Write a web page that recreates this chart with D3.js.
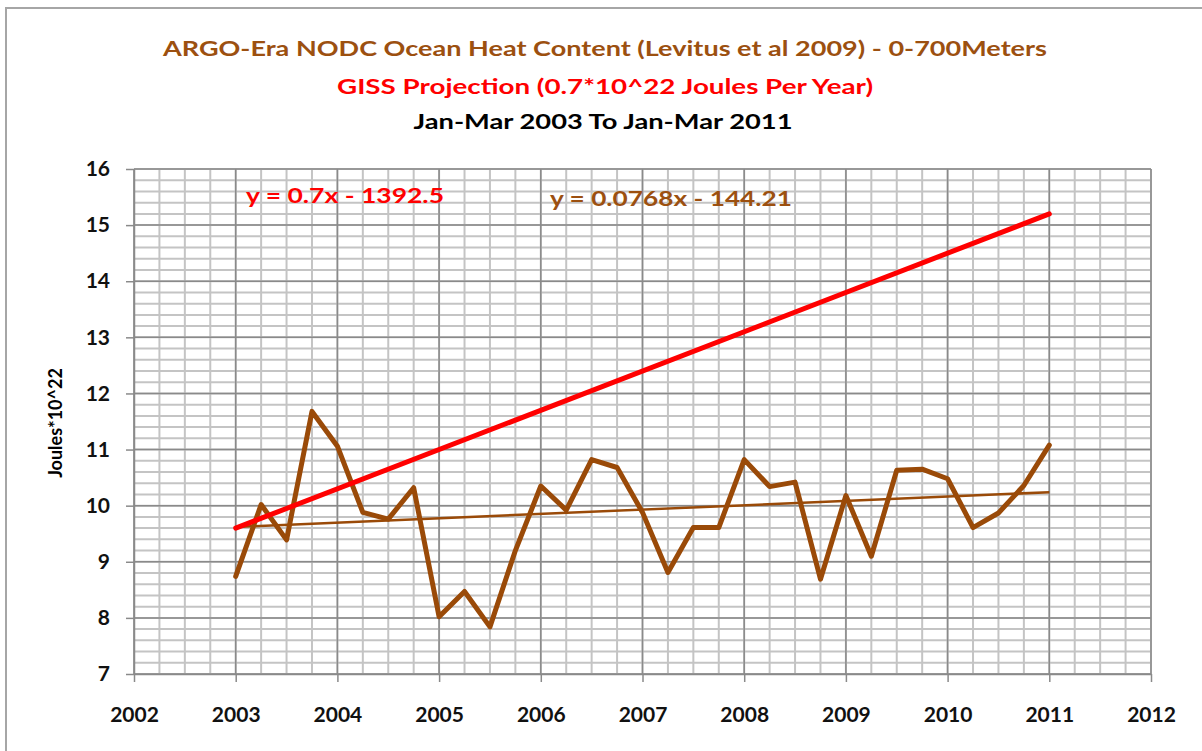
<!DOCTYPE html>
<html>
<head>
<meta charset="utf-8">
<script src="https://d3js.org/d3.v7.min.js"></script>
<style>
  body { margin: 0; background: #fff; }
  svg text { font-family: Lato, "Open Sans", sans-serif; font-weight: bold; }
</style>
</head>
<body>
<div id="chart"></div>
<script>
// quarterly NODC 0-700m ohc (10^22 J), Jan-Mar 2003 .. Jan-Mar 2011
var quarters = [2003, 2003.25, 2003.5, 2003.75, 2004, 2004.25, 2004.5, 2004.75,
                2005, 2005.25, 2005.5, 2005.75, 2006, 2006.25, 2006.5, 2006.75,
                2007, 2007.25, 2007.5, 2007.75, 2008, 2008.25, 2008.5, 2008.75,
                2009, 2009.25, 2009.5, 2009.75, 2010, 2010.25, 2010.5, 2010.75, 2011];
var ohc = [8.74, 10.02, 9.39, 11.68, 11.06, 9.88, 9.76, 10.32,
           8.02, 8.47, 7.84, 9.2, 10.35, 9.92, 10.82, 10.68,
           9.88, 8.81, 9.61, 9.61, 10.82, 10.34, 10.42, 8.69,
           10.18, 9.1, 10.63, 10.65, 10.48, 9.61, 9.87, 10.36, 11.08];

// end points of the two straight lines
var lineYears = [2003, 2011];
var gissLine = [9.6, 15.2];
var trendLine = [9.62, 10.24];

var yearTicks = [2002, 2003, 2004, 2005, 2006, 2007, 2008, 2009, 2010, 2011, 2012];
var valueTicks = [7, 8, 9, 10, 11, 12, 13, 14, 15, 16];

var titles = ["ARGO-Era NODC Ocean Heat Content (Levitus et al 2009) - 0-700Meters",
              "GISS Projection (0.7*10^22 Joules Per Year)",
              "Jan-Mar 2003 To Jan-Mar 2011"];
var gissLabel = "y = 0.7x - 1392.5";
var trendLabel = "y = 0.0768x - 144.21";
var yTitle = "Joules*10^22";

var brown = "#9a4a08", brownText = "#9c5010", red = "#ff0000";

var W = 1202, H = 751;
var margin = {top: 169, left: 134},
    width = 1017, height = 505;

var svg = d3.select("#chart").append("svg")
    .attr("width", W).attr("height", H);

// outer frame (only left and top show)
svg.append("path")
    .attr("d", "M6,751 V8 H1202")
    .attr("fill", "none").attr("stroke", "#a6a6a6").attr("stroke-width", 2);

// titles
var tPos = [[605, 47, 884, brownText], [605, 85, 536, red], [603, 120, 379, "#000"]];
titles.forEach(function(t, i) {
  svg.append("text")
    .attr("x", tPos[i][0]).attr("y", tPos[i][1])
    .attr("text-anchor", "middle")
    .attr("dominant-baseline", "central")
    .attr("textLength", tPos[i][2])
    .attr("lengthAdjust", "spacingAndGlyphs")
    .style("font-size", "21px")
    .attr("fill", tPos[i][3])
    .text(t);
});

var g = svg.append("g")
    .attr("transform", "translate(" + margin.left + "," + margin.top + ")");

var x = d3.scaleLinear().domain([2002, 2012]).range([0, width]);
var y = d3.scaleLinear().domain([7, 16]).range([height, 0]);

// minor grid
var minorX = d3.range(0, 41).map(function(i) { return 2002 + i * 0.25; });
var minorY = d3.range(0, 46).map(function(i) { return 7 + i * 0.2; });
g.append("g").selectAll("line").data(minorX).enter().append("line")
    .attr("x1", function(d) { return x(d); }).attr("x2", function(d) { return x(d); })
    .attr("y1", 0).attr("y2", height)
    .attr("stroke", "#c4c4c4").attr("stroke-width", 2);
g.append("g").selectAll("line").data(minorY).enter().append("line")
    .attr("y1", function(d) { return y(d); }).attr("y2", function(d) { return y(d); })
    .attr("x1", 0).attr("x2", width)
    .attr("stroke", "#c4c4c4").attr("stroke-width", 2);

// major grid
g.append("g").selectAll("line").data(yearTicks).enter().append("line")
    .attr("x1", function(d) { return x(d); }).attr("x2", function(d) { return x(d); })
    .attr("y1", 0).attr("y2", height)
    .attr("stroke", "#8a8a8a").attr("stroke-width", 1.5);
g.append("g").selectAll("line").data(valueTicks).enter().append("line")
    .attr("y1", function(d) { return y(d); }).attr("y2", function(d) { return y(d); })
    .attr("x1", 0).attr("x2", width)
    .attr("stroke", "#8a8a8a").attr("stroke-width", 1.5);

// axes
var xAxis = g.append("g")
    .attr("transform", "translate(0," + height + ")")
    .call(d3.axisBottom(x).tickValues(yearTicks).tickFormat(d3.format("d"))
          .tickSize(8).tickSizeOuter(0).tickPadding(25));
var yAxis = g.append("g")
    .call(d3.axisLeft(y).tickValues(valueTicks).tickFormat(d3.format("d"))
          .tickSize(8).tickSizeOuter(0).tickPadding(16));
[xAxis, yAxis].forEach(function(a) {
  a.select(".domain").attr("stroke", "#8a8a8a").attr("stroke-width", 1.5);
  a.selectAll(".tick line").attr("stroke", "#8a8a8a").attr("stroke-width", 1.5);
  a.selectAll(".tick text").style("font-size", "21px").attr("fill", "#111");
});

// y axis title
svg.append("text")
    .attr("transform", "translate(55,423) rotate(-90)")
    .attr("text-anchor", "middle")
    .attr("dominant-baseline", "central")
    .style("font-size", "18px")
    .attr("fill", "#000")
    .text(yTitle);

// lines
var line = d3.line()
    .x(function(d) { return x(d[0]); })
    .y(function(d) { return y(d[1]); });

g.append("path")
    .datum(lineYears.map(function(d, i) { return [d, trendLine[i]]; }))
    .attr("d", line)
    .attr("fill", "none").attr("stroke", brown).attr("stroke-width", 2.5);

g.append("path")
    .datum(quarters.map(function(d, i) { return [d, ohc[i]]; }))
    .attr("d", line)
    .attr("fill", "none").attr("stroke", brown).attr("stroke-width", 5)
    .attr("stroke-linejoin", "round").attr("stroke-linecap", "round");

g.append("path")
    .datum(lineYears.map(function(d, i) { return [d, gissLine[i]]; }))
    .attr("d", line)
    .attr("fill", "none").attr("stroke", red).attr("stroke-width", 5)
    .attr("stroke-linecap", "round");

// trend equations
svg.append("text")
    .attr("x", 246).attr("y", 194)
    .attr("dominant-baseline", "central")
    .attr("textLength", 198).attr("lengthAdjust", "spacingAndGlyphs")
    .style("font-size", "21px").attr("fill", red)
    .text(gissLabel);
svg.append("text")
    .attr("x", 550).attr("y", 197)
    .attr("dominant-baseline", "central")
    .attr("textLength", 242).attr("lengthAdjust", "spacingAndGlyphs")
    .style("font-size", "21px").attr("fill", brownText)
    .text(trendLabel);
</script>
</body>
</html>
